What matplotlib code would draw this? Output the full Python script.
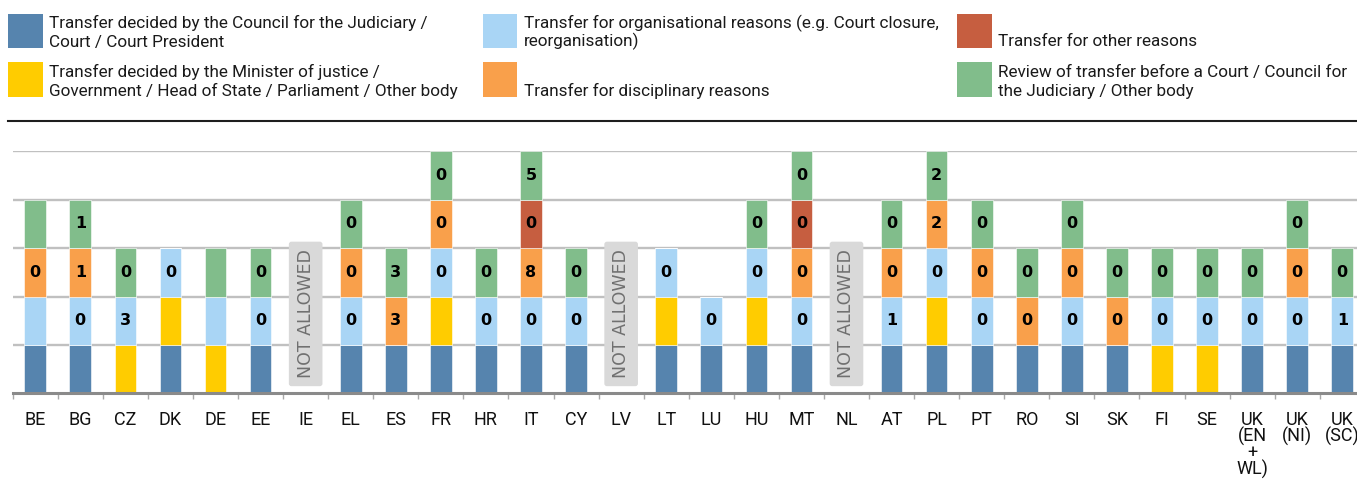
import matplotlib
matplotlib.use("Agg")
import matplotlib.pyplot as plt
from matplotlib.patches import Rectangle
from matplotlib.lines import Line2D
from matplotlib.ticker import FixedLocator
import numpy as np

# ---------------- data ----------------
countries = ['BE', 'BG', 'CZ', 'DK', 'DE', 'EE', 'IE', 'EL', 'ES', 'FR',
             'HR', 'IT', 'CY', 'LV', 'LT', 'LU', 'HU', 'MT', 'NL', 'AT',
             'PL', 'PT', 'RO', 'SI', 'SK', 'FI', 'SE', 'UK\n(EN\n+\nWL)',
             'UK\n(NI)', 'UK\n(SC)']

not_allowed = ['IE', 'LV', 'NL']

series_names = [
    "Transfer decided by the Council for the Judiciary /\nCourt / Court President",
    "Transfer decided by the Minister of justice /\nGovernment / Head of State / Parliament / Other body",
    "Transfer for organisational reasons (e.g. Court closure,\nreorganisation)",
    "\nTransfer for disciplinary reasons",
    "\nTransfer for other reasons",
    "Review of transfer before a Court / Council for\nthe Judiciary / Other body",
]

# presence of each type (1 = possible), per country
council = [1, 1, 0, 1, 0, 1, 0, 1, 1, 1, 1, 1, 1, 0, 1, 1, 1, 1, 0, 1,
           1, 1, 1, 1, 1, 0, 0, 1, 1, 1]
minister = [0, 0, 1, 1, 1, 0, 0, 0, 0, 1, 0, 0, 0, 0, 1, 0, 1, 0, 0, 0,
            1, 0, 0, 0, 0, 1, 1, 0, 0, 0]
organisational = [1, 1, 1, 1, 1, 1, 0, 1, 0, 1, 1, 1, 1, 0, 1, 1, 1, 1, 0, 1,
                  1, 1, 0, 1, 0, 1, 1, 1, 1, 1]
disciplinary = [1, 1, 0, 0, 0, 0, 0, 1, 1, 1, 0, 1, 0, 0, 0, 0, 0, 1, 0, 1,
                1, 1, 1, 1, 1, 0, 0, 0, 1, 0]
other = [0, 0, 0, 0, 0, 0, 0, 0, 0, 0, 0, 1, 0, 0, 0, 0, 0, 1, 0, 0,
         0, 0, 0, 0, 0, 0, 0, 0, 0, 0]
review = [1, 1, 1, 0, 1, 1, 0, 1, 1, 1, 1, 1, 1, 0, 0, 0, 1, 1, 0, 1,
          1, 1, 1, 1, 1, 1, 1, 1, 1, 1]

# numbers shown inside segments ('' = no number)
council_lbl = [''] * 30
minister_lbl = [''] * 30
organisational_lbl = ['', '0', '3', '0', '', '0', '', '0', '', '0',
                      '0', '0', '0', '', '0', '0', '0', '0', '', '1',
                      '0', '0', '', '0', '', '0', '0', '0', '0', '1']
disciplinary_lbl = ['0', '1', '', '', '', '', '', '0', '3', '0',
                    '', '8', '', '', '', '', '', '0', '', '0',
                    '2', '0', '0', '0', '0', '', '', '', '0', '']
other_lbl = ['', '', '', '', '', '', '', '', '', '',
             '', '0', '', '', '', '', '', '0', '', '',
             '', '', '', '', '', '', '', '', '', '']
review_lbl = ['', '1', '0', '', '', '0', '', '0', '3', '0',
              '0', '5', '0', '', '', '', '0', '0', '', '0',
              '2', '0', '0', '0', '0', '0', '0', '0', '0', '0']

series = [council, minister, organisational, disciplinary, other, review]
series_lbl = [council_lbl, minister_lbl, organisational_lbl, disciplinary_lbl,
              other_lbl, review_lbl]
colors = ['#5684AE', '#FFCC00', '#A9D5F5', '#F9A04B', '#C65E40', '#81BD8B']

# ---------------- figure ----------------
W, H = 1357, 479
fig = plt.figure(figsize=(W / 100, H / 100), dpi=100)

def fx(x):
    return x / W

def fy(y):
    return 1 - y / H

TXT_FONT = 'Roboto'

# axes: baseline at y=393.3 px, top gridline at 151.3 px, slot 45.07 px
ax_left = 12.7
slot = 45.07
n = len(countries)
ax = fig.add_axes([fx(ax_left), fy(393.3), n * slot / W, (393.3 - 151.3) / H])
ax.set_xlim(-0.5, n - 0.5)
ax.set_ylim(0, 5)

x = np.arange(n)
bottom = np.zeros(n)
for vals, lbls, col in zip(series, series_lbl, colors):
    vals = np.array(vals, dtype=float)
    ax.bar(x, vals, bottom=bottom, width=0.48, color=col,
           edgecolor='white', linewidth=0.4, zorder=2)
    for i in range(n):
        if vals[i] > 0 and lbls[i]:
            ax.text(x[i], bottom[i] + vals[i] / 2, lbls[i], ha='center',
                    va='center', fontsize=11.5, fontweight='bold',
                    family='DejaVu Sans', color='black', zorder=4)
    bottom += vals

for c in not_allowed:
    i = countries.index(c)
    ax.text(i, 1.64, 'NOT ALLOWED', rotation=90, ha='center', va='center',
            fontsize=12.5, family='DejaVu Sans', color='#707070', zorder=5,
            bbox=dict(boxstyle='round,pad=0.45,rounding_size=0.15',
                      fc='#D9D9D9', ec='none'))

ax.set_yticks([1, 2, 3, 4, 5])
ax.yaxis.grid(True, color='#C0C0C0', linewidth=1.7, zorder=1)
ax.set_axisbelow(True)
ax.tick_params(axis='y', left=False, labelleft=False)
for s in ['left', 'right', 'top']:
    ax.spines[s].set_visible(False)
ax.spines['bottom'].set_color('#8A8A8A')
ax.spines['bottom'].set_linewidth(2.2)
ax.spines['bottom'].set_zorder(3)

ax.set_xticks(x)
ax.set_xticklabels(countries, fontsize=13, family=TXT_FONT, color='#111111',
                   linespacing=0.86, va='top')
ax.tick_params(axis='x', which='major', length=0, pad=12.5)
ax.xaxis.set_minor_locator(FixedLocator(np.arange(-0.5, n, 1.0)))
ax.tick_params(axis='x', which='minor', length=4, width=1.0, color='#A8A8A8')

# ---------------- legend ----------------
patch_cols = [(8, 43), (483, 517), (957, 992)]
text_x = [49, 524, 998]
patch_rows = [(14, 48), (62, 97)]
baselines = [(28, 46.5), (77, 96)]
order = [(0, 0), (1, 0), (0, 1), (1, 1), (0, 2), (1, 2)]  # (row, col) per series
for k, (r, c) in enumerate(order):
    x0, x1 = patch_cols[c]
    y0, y1 = patch_rows[r]
    fig.patches.append(Rectangle((fx(x0), fy(y1)), fx(x1 - x0), (y1 - y0) / H,
                                 transform=fig.transFigure, facecolor=colors[k],
                                 edgecolor='none'))
    lines = series_names[k].split('\n')
    for j, line in enumerate(lines):
        if line:
            fig.text(fx(text_x[c]), fy(baselines[r][j]), line, ha='left',
                     va='baseline', fontsize=12.3, family=TXT_FONT,
                     color='#1A1A1A')

fig.add_artist(Line2D([fx(8), 1], [fy(120.5), fy(120.5)],
                      transform=fig.transFigure, color='#1E1E1E', linewidth=1.5))

fig.savefig('out.png', dpi=100)
